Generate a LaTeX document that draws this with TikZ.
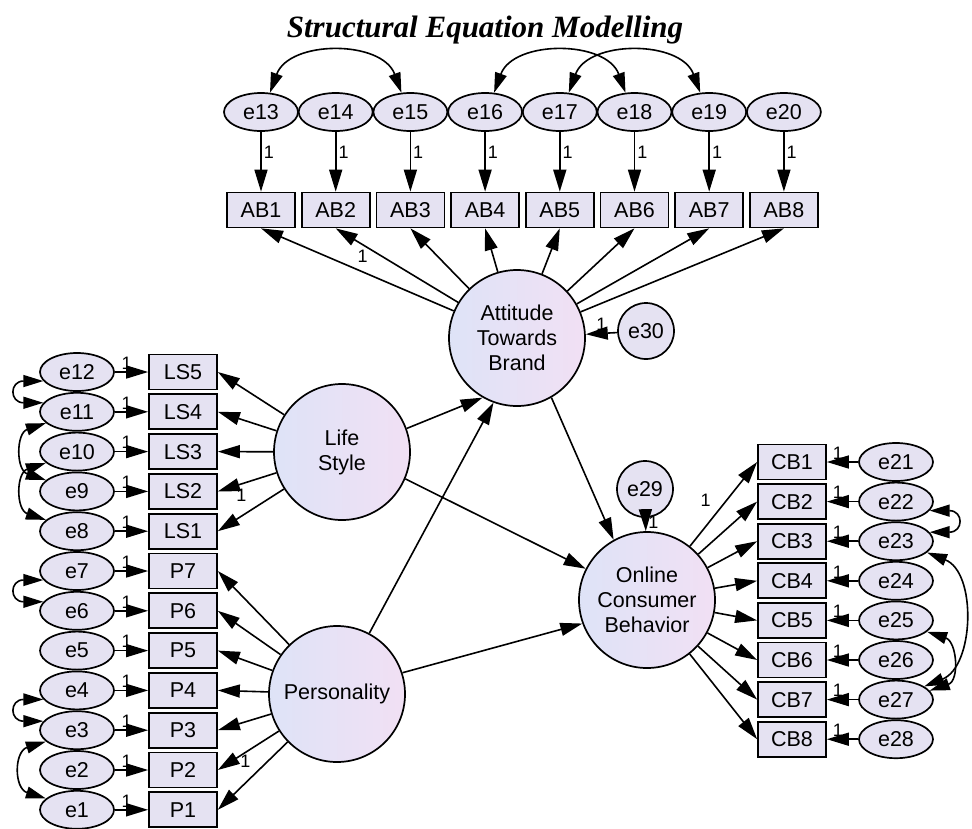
\documentclass[tikz,border=0pt]{standalone}
\usepackage{fontspec}
\setmainfont{Liberation Sans}
\newfontfamily\titlefont{Liberation Serif}
\usetikzlibrary{arrows.meta,shapes.geometric}
\definecolor{lav}{RGB}{229,226,242}
\definecolor{lavl}{RGB}{222,227,247}
\definecolor{lavr}{RGB}{241,224,244}

\begin{document}
\begin{tikzpicture}[x=1pt, y=1pt, every node/.style={font=\fontsize{21.5}{25}\selectfont},
    obs/.style={draw, line width=1.7pt, fill=lav, minimum width=68pt, minimum height=35pt, inner sep=0pt},
    err/.style={ellipse, draw, line width=1.7pt, fill=lav, minimum width=74pt, minimum height=38pt, inner sep=0pt},
    res/.style={circle, draw, line width=1.7pt, fill=lav, minimum size=56pt, inner sep=0pt},
    lat/.style={circle, draw, line width=1.7pt, left color=lavl, right color=lavr, minimum size=136pt, inner sep=0pt, align=center},
    arr/.style={-{Triangle[length=22pt,width=13pt]}, line width=1.6pt},
    cov/.style={{Triangle[length=20pt,width=12pt]}-{Triangle[length=20pt,width=12pt]}, line width=1.6pt},
    lbl/.style={font=\fontsize{18}{18}\selectfont, inner sep=2pt}]
    \useasboundingbox (0,0) rectangle (972,-828);
    \node[font=\titlefont\bfseries\itshape\fontsize{31}{34}\selectfont] (title) at (485,-30) {Structural Equation Modelling};

    \node[lat] (ATB) at (517,-338) {Attitude\\Towards\\Brand};
    \node[lat] (LS) at (342,-452) {Life\\Style};
    \node[lat] (P) at (337,-694) {Personality};
    \node[lat] (OCB) at (647,-600) {Online\\Consumer\\Behavior};
    \node[res] (e29) at (645,-489) {e29};
    \node[res] (e30) at (646,-331) {e30};

    \foreach \i [evaluate=\i as \x using 261+74.7*(\i-1), evaluate=\i as \ek using int(\i+12)] in {1,...,8} {
        \node[err] (e\ek) at (\x,-112) {e\ek};
        \node[obs] (AB\i) at (\x,-210) {AB\i};
        \draw[arr] (e\ek) -- (AB\i) node[lbl, pos=0.35, right] {1};
        \draw[arr] (ATB) -- (AB\i.south);
    }
    \foreach \k [evaluate=\k as \y using 372+39.8*(12-\k), evaluate=\k as \j using int(\k-7)] in {12,11,...,8} {
        \node[err] (e\k) at (77,-\y) {e\k};
        \node[obs] (LS\j) at (183,-\y) {LS\j};
        \draw[arr] (e\k) -- (LS\j) node[lbl, pos=0.35, above] {1};
        \draw[arr] (LS) -- (LS\j.east);
    }
    \foreach \k [evaluate=\k as \y using 372+39.8*(12-\k)] in {7,6,...,1} {
        \node[err] (e\k) at (77,-\y) {e\k};
        \node[obs] (P\k) at (183,-\y) {P\k};
        \draw[arr] (e\k) -- (P\k) node[lbl, pos=0.35, above] {1};
        \draw[arr] (P) -- (P\k.east);
    }
    \foreach \i [evaluate=\i as \y using 462+39.6*(\i-1), evaluate=\i as \ek using int(\i+20)] in {1,...,8} {
        \node[obs] (CB\i) at (792,-\y) {CB\i};
        \node[err] (e\ek) at (896,-\y) {e\ek};
        \draw[arr] (e\ek) -- (CB\i) node[lbl, pos=0.65, above] {1};
        \draw[arr] (OCB) -- (CB\i.west);
    }

    \path (ATB) -- (AB2.south) node[lbl, pos=0.78, below=3pt] {1};
    \path (LS) -- (LS2.east) node[lbl, pos=0.6, below=3pt] {1};
    \path (P) -- (P2.east) node[lbl, pos=0.55, below] {1};
    \path (OCB) -- (CB1.west) node[lbl, pos=0.4, above left=4pt] {1};

    \draw[arr] (LS.20) -- (ATB.240);
    \draw[arr] (P.62) -- (ATB.250);
    \draw[arr] (LS.337) -- (OCB.153);
    \draw[arr] (P.18) -- (OCB.200);
    \draw[arr] (ATB.300) -- (OCB.119);
    \draw[arr] (e29) -- (OCB) node[lbl, pos=0.3, right] {1};
    \draw[arr] (e30) -- (ATB) node[lbl, midway, above] {1};

    \draw[cov] (e13.65) to[out=70, in=110, looseness=1.1] (e15.115);
    \draw[cov] (e16.65) to[out=70, in=110, looseness=1.1] (e18.115);
    \draw[cov] (e17.65) to[out=70, in=110, looseness=1.1] (e19.115);

    \draw[cov] (e12.195) .. controls +(-34,0) and +(-34,0) .. (e11.165);
    \draw[cov] (e11.200) .. controls +(-30,-10) and +(-30,10) .. (e9.160);
    \draw[cov] (e10.200) .. controls +(-30,-10) and +(-30,10) .. (e8.160);
    \draw[cov] (e7.195) .. controls +(-34,0) and +(-34,0) .. (e6.165);
    \draw[cov] (e4.195) .. controls +(-34,0) and +(-34,0) .. (e3.165);
    \draw[cov] (e3.200) .. controls +(-32,-10) and +(-32,10) .. (e1.160);

    \draw[cov] (e22.345) .. controls +(34,0) and +(34,0) .. (e23.15);
    \draw[cov] (e23.340) .. controls +(50,-20) and +(50,20) .. (e27.25);
    \draw[cov] (e25.340) .. controls +(30,-10) and +(30,10) .. (e27.15);
\end{tikzpicture}
\end{document}
